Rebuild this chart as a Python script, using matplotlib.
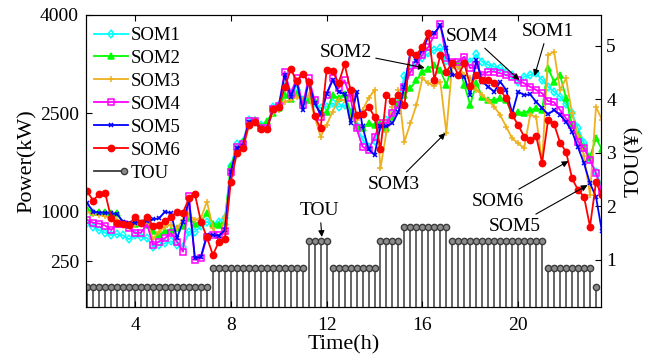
import numpy as np
import matplotlib
matplotlib.use('Agg')
import matplotlib.pyplot as plt
from matplotlib.lines import Line2D
from matplotlib.legend_handler import HandlerBase

# quarter-hour time steps shown on the chart
hours = np.arange(2, 23.51, 0.25)

som1 = [834, 773, 720, 680, 647, 660, 640, 582, 640, 620, 600, 470, 495, 520, 550, 495, 470, 697, 697, 780, 850,
        800, 850, 900,
        1690, 2030, 2060, 2400, 2380, 2320, 2300, 2600, 2620, 2900, 2804, 2854, 2700, 2720, 2650,
        2580, 2600, 2650, 2600, 2620, 2520, 2300, 2100, 1990, 2080, 2300, 2400, 2500, 2680, 3060, 3180, 3260, 3340, 3410,
        3463, 3488, 3300, 3250, 3230, 3300, 3280, 3397, 3285, 3234, 3209, 3184, 3133, 3082, 2980,
        3057, 3082, 3108, 3006, 2904, 2828, 2752, 2636, 2500, 2271, 2050, 1800, 1600, 1400]
som2 = [1040, 995, 990, 990, 985, 975, 830, 800, 820, 830, 800, 700, 650, 700, 720, 760, 780, 900, 820, 850, 980,
        820, 800, 850,
        1700, 1960, 2060, 2320, 2400, 2300, 2380, 2500, 2580, 2780, 2720, 2800, 2680, 2700, 2680,
        2500, 2520, 2780, 2730, 2800, 2520, 2300, 2270, 2350, 2320, 2350, 2270, 2450, 2650, 2780, 2880, 3000, 3130, 3180,
        3234, 3158, 2930, 3234, 3260, 2930, 2626, 2956, 2752, 2702, 2702, 2727, 2702, 2473, 2524,
        2500, 2550, 2575, 2550, 3184, 2980, 3082, 2727, 2321, 2169, 1967, 1839, 2118, 1950]
som3 = [1000, 960, 950, 930, 900, 870, 830, 810, 800, 810, 820, 590, 697, 773, 800, 748, 875, 950, 880, 900, 1155,
        760, 560, 900,
        1550, 1900, 1950, 2300, 2350, 2260, 2260, 2500, 2550, 2676, 2700, 2750, 2702, 2778, 2448,
        2144, 2321, 2524, 2702, 2702, 2423, 2397, 2550, 2727, 2854, 1662, 2220, 2600, 2854, 2068, 2347, 2626, 3032, 2956,
        2915, 2980, 2204, 3260, 3209, 3082, 3032, 2854, 2778, 2690, 2600, 2473, 2295, 2118, 2042,
        1967, 2473, 2448, 1738, 3387, 3437, 2854, 3032, 2500, 2150, 1850, 1256, 2600, 2400]
som4 = [875, 834, 820, 790, 723, 810, 810, 760, 673, 683, 810, 495, 546, 600, 673, 546, 393, 1234, 267, 292, 620,
        640, 640, 700,
        1600, 1990, 2030, 2380, 2380, 2280, 2270, 2560, 2610, 3133, 2800, 3032, 2620, 3032, 2700,
        2450, 2780, 3030, 2880, 3000, 2730, 2270, 1990, 1940, 2140, 2350, 2350, 2500, 2620, 2900, 3130, 3240, 3390, 3510,
        3691, 3853, 3336, 3285, 3285, 3361, 3184, 3234, 3082, 3133, 3133, 3108, 3082, 3057, 3006,
        2956, 2904, 2854, 2804, 2687, 2667, 2550, 2423, 2321, 2067, 1967, 1789, 1586, 1300]
som5 = [1130, 1002, 987, 987, 977, 962, 850, 825, 834, 849, 865, 886, 900, 1002, 977, 597, 850, 1180, 292, 317, 647,
        647, 636, 723,
        1610, 1967, 2000, 2362, 2362, 2271, 2256, 2550, 2600, 3082, 2752, 2980, 2550, 2980, 2650,
        2490, 2800, 3000, 2830, 2790, 2347, 2830, 2300, 1950, 1865, 2300, 2300, 2350, 2520, 2900, 3437, 3300, 3463, 3665,
        3717, 3843, 3488, 3082, 3082, 3057, 2778, 3311, 2980, 2904, 2828, 2980, 2854, 2500, 2828,
        2778, 2787, 2676, 2575, 2484, 2550, 2473, 2372, 2220, 1981, 1738, 1434, 1230, 700]
som6 = [1310, 1170, 1270, 1290, 900, 834, 815, 800, 926, 825, 926, 780, 800, 865, 926, 1002, 987, 1206, 1267, 850, 612,
        343, 546, 582,
        1460, 1890, 1967, 2321, 2372, 2256, 2256, 2560, 2600, 2895, 3169, 2996, 3097, 2980, 2452,
        2271, 3160, 3140, 2960, 3245, 2854, 2470, 2484, 2600, 2450, 1950, 2778, 2680, 2778, 2620, 3437, 3387, 3513, 3717,
        3006, 3387, 3133, 3270, 3082, 3260, 2915, 3082, 3006, 3000, 2956, 2854, 2727, 2473, 2321,
        2144, 2093, 2154, 1748, 2398, 2337, 2052, 1915, 1510, 1332, 1230, 773, 1450, 1250]

# time-of-use price per quarter hour (valley / flat / peak / sharp)
tou_price = ([0.50] * 21 + [0.85] * 16 + [1.35] * 4 + [0.85] * 8 + [1.35] * 4
             + [1.62] * 8 + [1.35] * 16 + [0.85] * 8 + [0.50] * 1)

names = ['SOM1', 'SOM2', 'SOM3', 'SOM4', 'SOM5', 'SOM6']
colors = ['#00FFFF', '#00FF00', '#EDB120', '#FF00FF', '#0000FF', '#FF0000']
markers = ['d', '^', '+', 's', 'x', 'o']
power_ticks = [250, 1000, 2500, 4000]
price_ticks = [1, 2, 3, 4, 5]
hour_ticks = [4, 8, 12, 16, 20]

plt.rcParams['font.family'] = ['Liberation Serif', 'DejaVu Serif']
STEM_COLOR = '#3a3a3a'


class StemLegend(HandlerBase):
    # MATLAB-style stem legend: line with the circle at the right end
    def create_artists(self, legend, orig_handle, xdescent, ydescent,
                       width, height, fontsize, trans):
        y = height / 2 - ydescent
        x1 = -xdescent + width * 0.88
        line = Line2D([-xdescent, x1], [y, y], color=STEM_COLOR, lw=1.3)
        dot = Line2D([x1], [y], marker='o', markersize=4.5, color=STEM_COLOR,
                     markerfacecolor='#8c8c8c', markeredgewidth=1.0, linestyle='none')
        line.set_transform(trans)
        dot.set_transform(trans)
        return [line, dot]


fig = plt.figure(figsize=(6.53, 3.6), dpi=100)
ax = fig.add_axes([0.1317, 0.1472, 0.7883, 0.8119])
ax2 = ax.twinx()

# TOU stems on the right axis
mk, stems, base = ax2.stem(hours[:len(tou_price)], tou_price, bottom=0, basefmt=' ')
stems.set_color(STEM_COLOR)
stems.set_linewidth(1.1)
mk.set_color(STEM_COLOR)
mk.set_markerfacecolor('#8c8c8c')
mk.set_markersize(4.5)
mk.set_markeredgewidth(1.0)
ax2.set_ylim(0.12, 5.58)
ax2.set_yticks(price_ticks)
ax2.set_ylabel('TOU(¥)', fontsize=16, labelpad=6)
ax2.tick_params(direction='in', length=4, labelsize=14, pad=4)

# power curves drawn above the stems
ax.set_zorder(ax2.get_zorder() + 1)
ax.patch.set_visible(False)
handles = []
for vals, name, c, m in zip([som1, som2, som3, som4, som5, som6], names, colors, markers):
    face = 'none' if m in ('d', 's') else c
    ms = 4.5 if m != 'x' else 3.5
    h, = ax.plot(hours, vals, color=c, marker=m, markersize=ms, markerfacecolor=face,
                 markeredgewidth=1.1, linewidth=1.3, label=name)
    handles.append(h)

tou_handle = Line2D([], [], color=STEM_COLOR)
ax.legend(handles + [tou_handle], names + ['TOU'], handler_map={tou_handle: StemLegend()},
          loc='upper left', bbox_to_anchor=(0.015, 0.958), frameon=False, fontsize=13.5,
          handlelength=1.85, handletextpad=0.1, labelspacing=0.31, borderpad=0, borderaxespad=0)

ax.set_xlim(1.95, 23.45)
ax.set_ylim(-450, 4000)
ax.set_xticks(hour_ticks)
ax.set_yticks(power_ticks)
ax.tick_params(direction='in', length=4, labelsize=14, top=True)
ax.tick_params(axis='x', pad=7)
ax.tick_params(axis='y', pad=5)
ax.set_xlabel('Time(h)', fontsize=16, labelpad=1)
ax.set_ylabel('Power(kW)', fontsize=16, labelpad=2)

arrow = dict(arrowstyle='-|>', color='black', lw=0.8, mutation_scale=9, shrinkA=1, shrinkB=0)
notes = [('SOM2', (16.1, 3190), (12.79, 3430)),
         ('SOM4', (20.05, 3006), (18.05, 3676)),
         ('SOM1', (20.68, 3067), (21.23, 3752)),
         ('SOM3', (16.96, 2198), (14.82, 1420)),
         ('SOM6', (22.1, 1771), (19.14, 1162)),
         ('SOM5', (22.9, 1406), (19.85, 782)),
         ('TOU', (11.8, 617), (11.72, 1025))]
for txt, head, pos in notes:
    ax.annotate(txt, xy=head, xytext=pos, ha='center', va='center', fontsize=14,
                arrowprops=arrow)

fig.savefig('out.png', dpi=100)
